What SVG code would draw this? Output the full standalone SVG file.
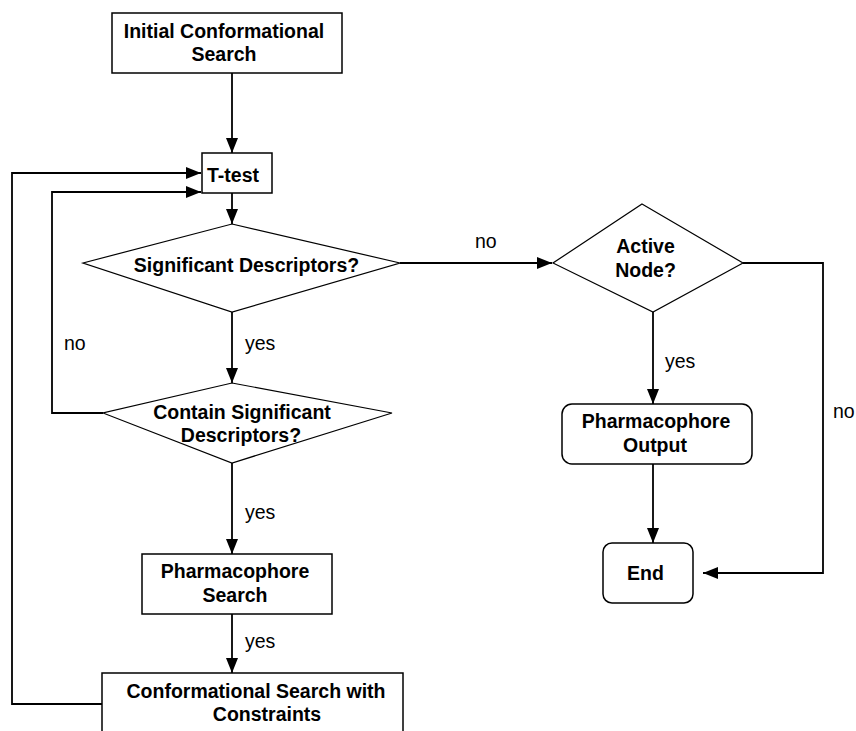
<svg xmlns="http://www.w3.org/2000/svg" width="856" height="731" viewBox="0 0 856 731">
<defs>
<marker id="ah" markerUnits="userSpaceOnUse" markerWidth="16" markerHeight="13" refX="15" refY="6" orient="auto">
<path d="M0,0 L15,6 L0,12 z" fill="#000"/>
</marker>
<style>
.box{fill:#fff;stroke:#000;stroke-width:1.5}
.dia{fill:#fff;stroke:#000;stroke-width:1.2}
.t{font-family:"Liberation Sans",Arial,sans-serif;font-size:19.5px;font-weight:bold;fill:#000;text-anchor:middle}
.l{font-family:"Liberation Sans",Arial,sans-serif;font-size:19.5px;fill:#000}
.c{fill:none;stroke:#000;stroke-width:1.8}
.ca{fill:none;stroke:#000;stroke-width:1.8;marker-end:url(#ah)}
</style>
</defs>
<rect width="856" height="731" fill="#fff"/>
<g id="connectors">
<path class="ca" d="M232,73 V153"/>
<path class="ca" d="M232,193 V224"/>
<path class="ca" d="M232,312 V383"/>
<path class="ca" d="M232,463 V554"/>
<path class="ca" d="M232,614 V673"/>
<path class="ca" d="M400,263 H552"/>
<path class="ca" d="M653,312 V404"/>
<path class="ca" d="M653,464 V543"/>
<path class="ca" d="M743,263 H823 V573 H703"/>
<path class="ca" d="M103,413 H52 V192 H201"/>
<path class="ca" d="M102,704 H12 V173 H201"/>
<text class="l" x="475" y="248">no</text>
<text class="l" x="665" y="368">yes</text>
<text class="l" x="833" y="418">no</text>
<text class="l" x="245" y="350">yes</text>
<text class="l" x="64" y="350">no</text>
<text class="l" x="245" y="519">yes</text>
<text class="l" x="245" y="648">yes</text>
</g>
<g id="initial">
<rect class="box" x="112" y="13" width="230" height="60"/>
<text class="t" x="224" y="38">Initial Conformational</text>
<text class="t" x="224" y="61">Search</text>
</g>
<g id="ttest">
<rect class="box" x="202" y="153" width="70" height="40"/>
<text class="t" x="207" y="182" style="text-anchor:start">T-test</text>
</g>
<g id="significant">
<polygon class="dia" points="232,224 400,263 232,312 83,263"/>
<text class="t" x="246.5" y="272">Significant Descriptors?</text>
</g>
<g id="contain">
<polygon class="dia" points="232,383 392,413 232,463 103,413"/>
<text class="t" x="242" y="419">Contain Significant</text>
<text class="t" x="241" y="442">Descriptors?</text>
</g>
<g id="pharmsearch">
<rect class="box" x="142" y="554" width="190" height="60"/>
<text class="t" x="235" y="578">Pharmacophore</text>
<text class="t" x="235" y="602">Search</text>
</g>
<g id="confconstraints">
<rect class="box" x="102" y="673" width="301" height="70"/>
<text class="t" x="256" y="698">Conformational Search with</text>
<text class="t" x="267" y="721">Constraints</text>
</g>
<g id="active">
<polygon class="dia" points="642,204 743,263 653,312 553,263"/>
<text class="t" x="645.5" y="253">Active</text>
<text class="t" x="645.5" y="277">Node?</text>
</g>
<g id="output">
<rect class="box" x="562" y="404" width="190" height="60" rx="10"/>
<text class="t" x="656" y="428">Pharmacophore</text>
<text class="t" x="655" y="452">Output</text>
</g>
<g id="end">
<rect class="box" x="603" y="543" width="90" height="60" rx="9"/>
<text class="t" x="645.5" y="580">End</text>
</g>
</svg>
